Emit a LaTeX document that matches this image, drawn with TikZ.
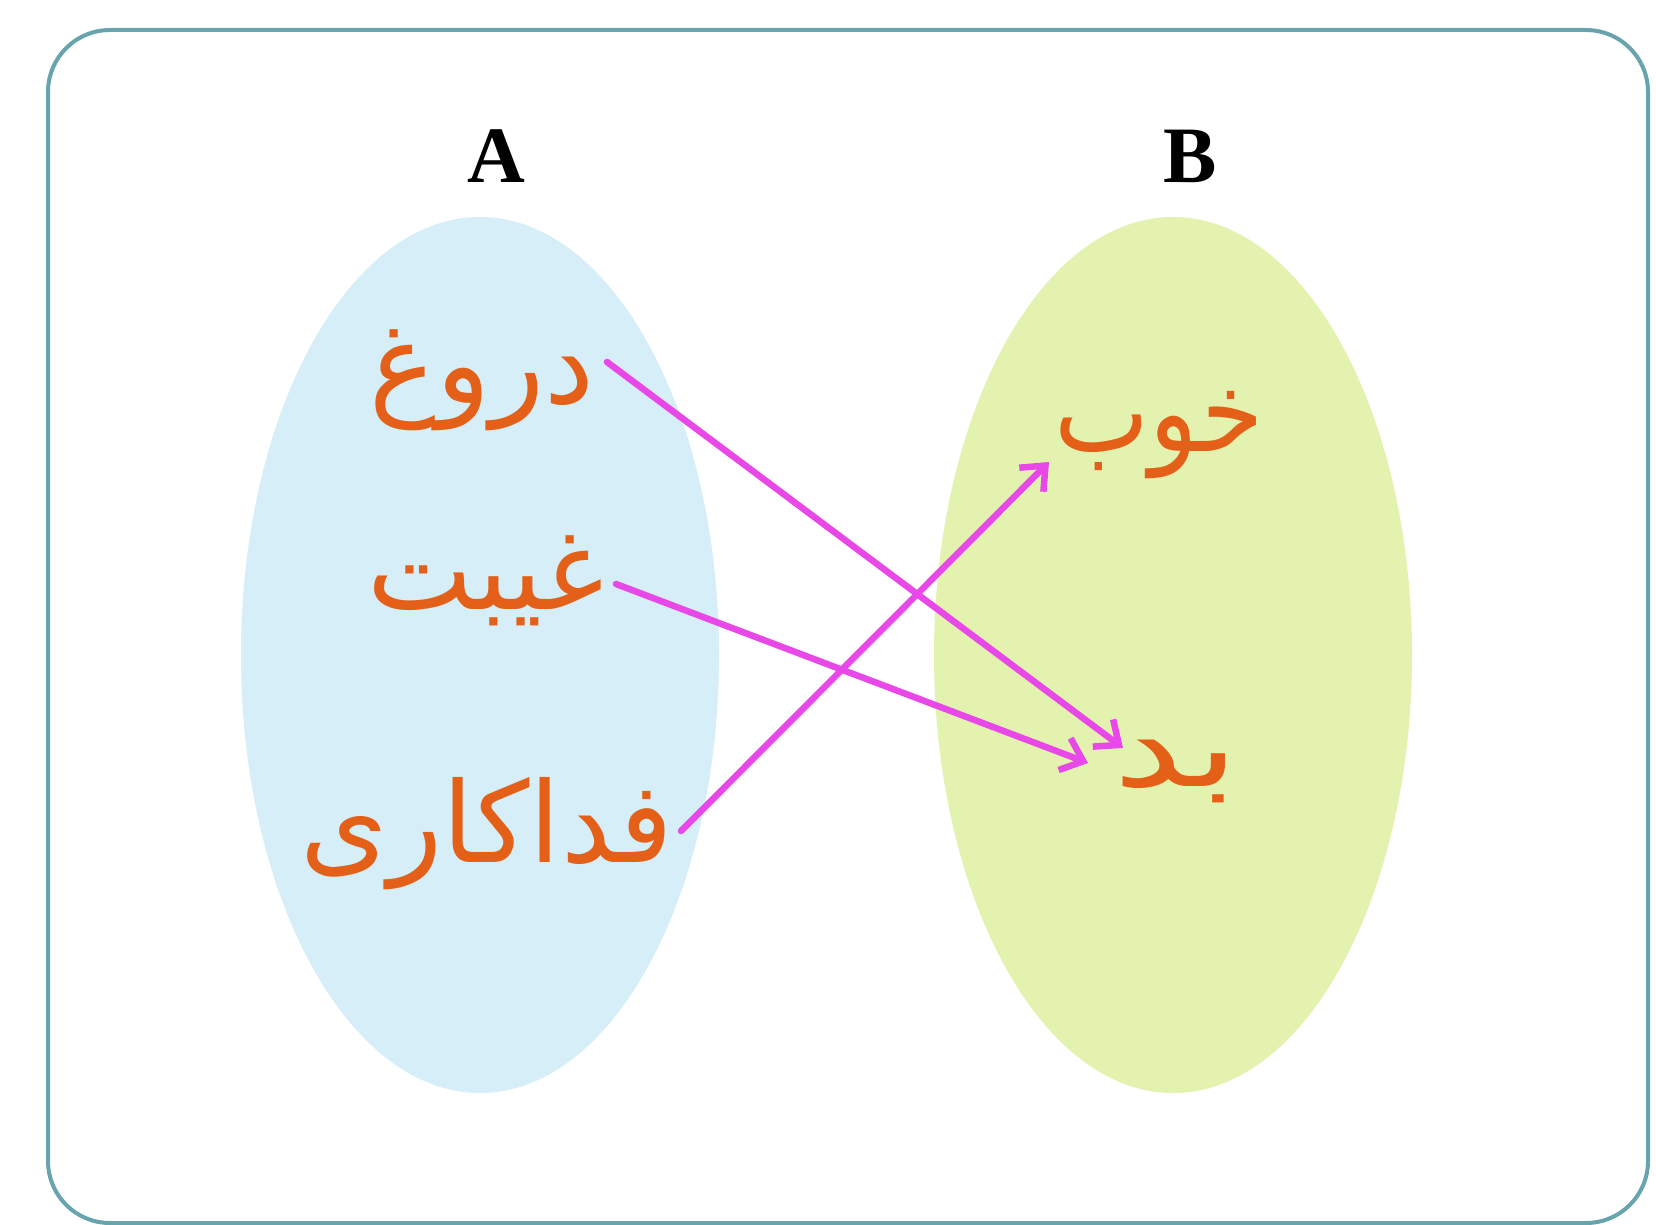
\documentclass[tikz,border=0pt]{standalone}
\usepackage{fontspec}
\setmainfont{Liberation Serif}
\newfontfamily\arabicfont[Script=Arabic]{DejaVu Sans}
\TeXXeTstate=1
\usetikzlibrary{arrows.meta,shapes.geometric}
\definecolor{framec}{RGB}{104,164,174}
\definecolor{setA}{RGB}{214,238,248}
\definecolor{setB}{RGB}{228,242,176}
\definecolor{wordc}{RGB}{228,96,24}
\definecolor{arrowc}{RGB}{232,72,232}
\tikzset{
  setshape/.style={ellipse, draw=none, inner sep=0pt, minimum width=478pt, minimum height=876pt},
  word/.style={text=wordc, font=\arabicfont\fontsize{112}{130}\selectfont, inner sep=0pt},
  setlabel/.style={font=\bfseries\fontsize{80}{92}\selectfont, text=black, inner sep=0pt},
  maparrow/.style={draw=arrowc, line width=6.5pt, line cap=round, -{Straight Barb[length=20pt,width=34pt,line width=6.5pt]}}
}
\begin{document}
\begin{tikzpicture}[x=1pt,y=-1pt]
\useasboundingbox (0,0) rectangle (1656,1225);
\fill[white] (0,0) rectangle (1656,1225);
\draw[framec, line width=4pt, rounded corners=62pt] (48,30) rectangle (1648,1223);
\node[setshape, fill=setA] (ellA) at (480,655) {};
\node[setshape, fill=setB] (ellB) at (1173,655) {};
\node[setlabel] (labA) at (496,156) {A};
\node[setlabel] (labB) at (1190,156) {B};
\node[word] (w1) at (482,380) {\beginR دروغ\endR};
\node[word] (w2) at (486,581) {\beginR غیبت\endR};
\node[word] (w3) at (487,834) {\beginR فداکاری\endR};
\node[word] (w4) at (1159,435) {\scalebox{0.9}[1]{\beginR خوب\endR}};
\node[word] (w5) at (1176,771) {\scalebox{1.4}[1]{\beginR بد\endR}};
\draw[maparrow] ([shift={(125,-18)}]w1.center) -- ([shift={(-53,-23)}]w5.center);
\draw[maparrow] ([shift={(130,3)}]w2.center) -- ([shift={(-88,-8)}]w5.center);
\draw[maparrow] ([shift={(194,-3)}]w3.center) -- ([shift={(-110,27)}]w4.center);
\end{tikzpicture}
\end{document}
